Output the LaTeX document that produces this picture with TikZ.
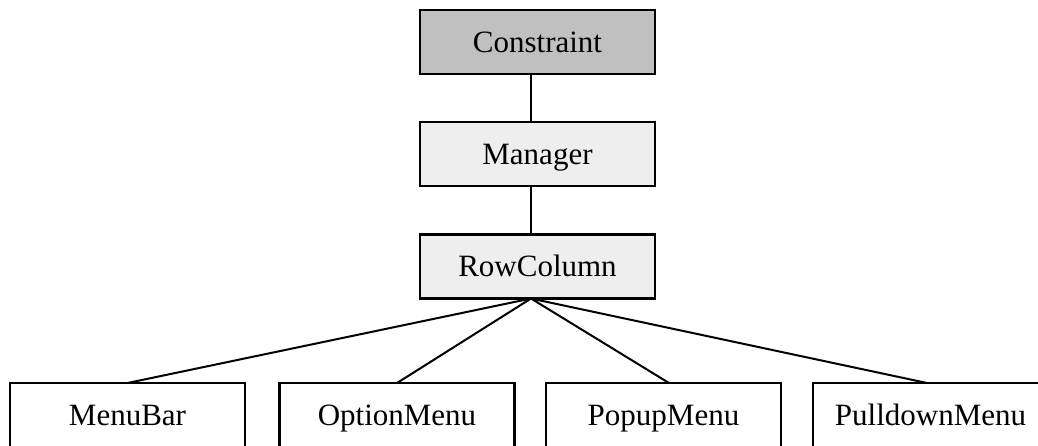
\documentclass[tikz,border=0pt]{standalone}
\usepackage{fontspec}
\setmainfont{Liberation Serif}
\definecolor{darkfill}{HTML}{C0C0C0}
\definecolor{lightfill}{HTML}{EEEEEE}
\begin{document}
\begin{tikzpicture}[x=1pt,y=-1pt,
  box/.style={draw=black,line width=2.5pt,minimum width=235pt,minimum height=64pt,
    inner sep=0pt,outer sep=0pt,font=\fontsize{31}{31}\selectfont,
    text height=20.5pt,text depth=0pt},
  link/.style={line width=2pt}]
\useasboundingbox (0,0) rectangle (1038,445);
\clip (0,0) rectangle (1038,445);
\node[box,fill=darkfill] (c) at (537.5,42) {Constraint};
\node[box,fill=lightfill] (m) at (537.5,154) {Manager};
\node[box,fill=lightfill] (r) at (537.5,266.5) {RowColumn};
\node[box,fill=white] (b1) at (127.5,415) {MenuBar};
\node[box,fill=white] (b2) at (397,415) {OptionMenu};
\node[box,fill=white] (b3) at (663.5,415) {PopupMenu};
\node[box,fill=white] (b4) at (930.5,415) {PulldownMenu};
\coordinate (hub) at (531,298.5);
\draw[link] (c.south -| hub) -- (m.north -| hub);
\draw[link] (m.south -| hub) -- (r.north -| hub);
\draw[link] (hub) -- (b1.north);
\draw[link] (hub) -- (b2.north);
\draw[link] (hub) -- ([xshift=5.5pt]b3.north);
\draw[link] (hub) -- ([xshift=-3.5pt]b4.north);
\end{tikzpicture}
\end{document}
